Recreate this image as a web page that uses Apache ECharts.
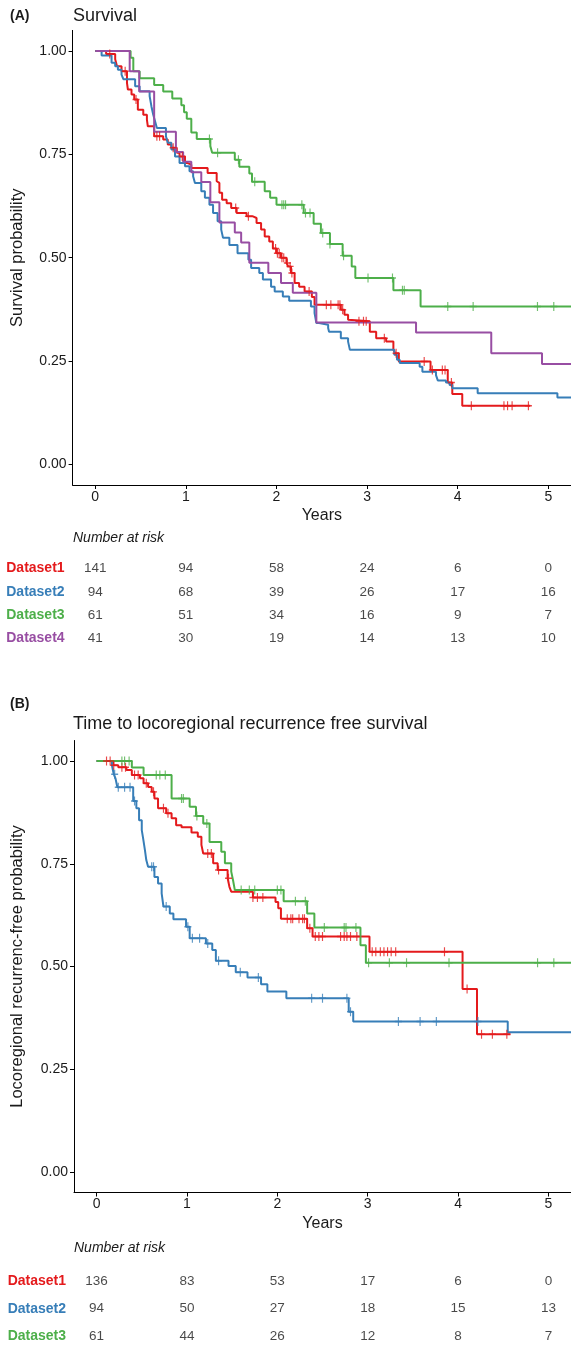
<!DOCTYPE html>
<html>
<head>
<meta charset="utf-8">
<script src="https://cdn.jsdelivr.net/npm/echarts@6/dist/echarts.min.js"></script>
<style>
html,body{margin:0;padding:0;background:#fff;}
#chart{width:571px;height:1350px;}
</style>
</head>
<body>
<div id="chart"></div>
<script>
// ---------- DATA ----------
const datasetNames = ['Dataset1', 'Dataset2', 'Dataset3', 'Dataset4'];
const riskYears = [0, 1, 2, 3, 4, 5];
const yTicks = [0, 0.25, 0.5, 0.75, 1];

// Panel A: Survival — step points [years, survival probability]
const survA_D1 = [[0,1],[0.12,0.993],[0.22,0.980],[0.24,0.963],[0.29,0.951],[0.35,0.923],[0.36,0.907],[0.40,0.895],[0.43,0.883],[0.47,0.858],[0.53,0.846],[0.57,0.834],[0.58,0.818],[0.65,0.794],[0.75,0.786],[0.80,0.774],[0.84,0.766],[0.90,0.754],[0.93,0.745],[0.99,0.729],[1.02,0.725],[1.06,0.717],[1.24,0.705],[1.34,0.685],[1.35,0.681],[1.37,0.657],[1.40,0.640],[1.45,0.632],[1.50,0.620],[1.56,0.608],[1.67,0.600],[1.74,0.596],[1.78,0.584],[1.83,0.568],[1.87,0.551],[1.92,0.539],[1.96,0.522],[2.00,0.511],[2.05,0.500],[2.11,0.487],[2.13,0.479],[2.16,0.463],[2.20,0.439],[2.25,0.430],[2.31,0.418],[2.39,0.405],[2.42,0.386],[2.71,0.374],[2.75,0.362],[2.79,0.350],[2.81,0.346],[3.03,0.321],[3.10,0.305],[3.21,0.297],[3.29,0.277],[3.31,0.269],[3.35,0.249],[3.70,0.228],[3.89,0.198],[3.94,0.170],[4.05,0.142],[4.80,0.142]];
const censA_D1 = [0.16,0.33,0.45,0.68,0.71,0.86,0.96,1.55,1.69,1.99,2.01,2.03,2.06,2.08,2.12,2.15,2.17,2.36,2.55,2.60,2.68,2.70,2.73,2.91,2.96,2.99,3.19,3.32,3.63,3.72,3.83,3.86,3.93,4.15,4.51,4.55,4.60,4.78];

const survA_D2 = [[0,1],[0.07,0.989],[0.18,0.972],[0.22,0.963],[0.25,0.955],[0.29,0.943],[0.31,0.932],[0.44,0.915],[0.49,0.903],[0.60,0.891],[0.62,0.866],[0.64,0.846],[0.66,0.830],[0.68,0.814],[0.78,0.794],[0.80,0.778],[0.84,0.762],[0.88,0.745],[0.93,0.729],[0.99,0.721],[1.04,0.709],[1.08,0.697],[1.10,0.681],[1.17,0.661],[1.21,0.645],[1.26,0.628],[1.30,0.608],[1.35,0.588],[1.39,0.568],[1.41,0.548],[1.48,0.531],[1.57,0.511],[1.69,0.495],[1.72,0.475],[1.81,0.463],[1.85,0.447],[1.94,0.430],[1.98,0.418],[2.07,0.406],[2.14,0.396],[2.38,0.382],[2.42,0.366],[2.44,0.342],[2.47,0.338],[2.57,0.330],[2.58,0.321],[2.71,0.305],[2.79,0.297],[2.81,0.277],[3.30,0.265],[3.33,0.253],[3.36,0.245],[3.58,0.236],[3.61,0.224],[3.76,0.216],[3.78,0.203],[3.87,0.198],[3.91,0.192],[3.94,0.184],[4.22,0.172],[5.10,0.162],[5.30,0.162]];
const censA_D2 = [];

const survA_D3 = [[0,1],[0.39,0.984],[0.42,0.951],[0.49,0.934],[0.65,0.918],[0.75,0.902],[0.85,0.885],[0.95,0.869],[0.98,0.852],[1.01,0.836],[1.06,0.803],[1.12,0.787],[1.27,0.770],[1.29,0.754],[1.54,0.737],[1.59,0.720],[1.70,0.704],[1.73,0.684],[1.87,0.661],[1.93,0.645],[2.00,0.628],[2.30,0.608],[2.41,0.582],[2.49,0.560],[2.59,0.533],[2.73,0.505],[2.83,0.479],[2.87,0.451],[3.29,0.421],[3.59,0.382],[5.30,0.382]];
const censA_D3 = [1.26,1.35,1.58,1.76,2.06,2.08,2.10,2.28,2.32,2.37,2.51,2.59,2.74,3.01,3.28,3.39,3.41,3.89,4.17,4.88,5.06];

const survA_D4 = [[0,1],[0.38,0.951],[0.485,0.902],[0.65,0.805],[0.89,0.756],[0.97,0.732],[1.06,0.707],[1.17,0.683],[1.27,0.634],[1.37,0.585],[1.54,0.561],[1.61,0.537],[1.70,0.488],[1.91,0.463],[2.05,0.439],[2.18,0.415],[2.44,0.343],[3.54,0.319],[4.37,0.269],[4.93,0.243],[5.30,0.243]];
const censA_D4 = [];

// Panel B: Time to locoregional recurrence free survival
const survB_D1 = [[0,1],[0.185,0.990],[0.24,0.985],[0.33,0.978],[0.39,0.966],[0.48,0.958],[0.52,0.946],[0.57,0.937],[0.61,0.925],[0.64,0.909],[0.68,0.885],[0.77,0.873],[0.83,0.861],[0.88,0.844],[0.94,0.839],[1.05,0.826],[1.12,0.816],[1.16,0.796],[1.18,0.775],[1.29,0.751],[1.34,0.735],[1.45,0.715],[1.47,0.694],[1.49,0.682],[1.73,0.668],[1.98,0.657],[2.01,0.642],[2.04,0.616],[2.33,0.593],[2.39,0.573],[3.02,0.536],[4.05,0.445],[4.21,0.335],[4.58,0.335]];
const censB_D1 = [0.11,0.15,0.19,0.28,0.32,0.42,0.46,0.55,0.63,0.74,0.79,1.23,1.27,1.35,1.46,1.73,1.78,1.84,2.11,2.15,2.17,2.24,2.28,2.30,2.36,2.42,2.46,2.50,2.70,2.74,2.77,2.81,2.88,3.05,3.09,3.14,3.18,3.22,3.26,3.31,3.85,4.10,4.26,4.38,4.54];

const survB_D2 = [[0,1],[0.17,0.989],[0.19,0.968],[0.21,0.957],[0.23,0.936],[0.405,0.903],[0.44,0.885],[0.47,0.856],[0.50,0.832],[0.515,0.812],[0.535,0.783],[0.55,0.759],[0.57,0.743],[0.64,0.718],[0.68,0.702],[0.72,0.678],[0.74,0.646],[0.81,0.629],[0.85,0.615],[0.99,0.597],[1.03,0.569],[1.21,0.556],[1.28,0.540],[1.32,0.514],[1.46,0.501],[1.54,0.486],[1.67,0.473],[1.82,0.457],[1.89,0.439],[2.10,0.423],[2.79,0.390],[2.84,0.366],[4.55,0.340],[5.30,0.340]];
const censB_D2 = [0.20,0.24,0.31,0.37,0.42,0.61,0.63,0.77,1.01,1.06,1.14,1.23,1.35,1.59,1.79,2.38,2.50,2.77,2.81,3.34,3.58,3.76,4.22];

const survB_D3 = [[0,1],[0.39,0.984],[0.52,0.966],[0.83,0.909],[1.03,0.889],[1.10,0.866],[1.18,0.848],[1.25,0.803],[1.38,0.779],[1.42,0.751],[1.49,0.731],[1.51,0.710],[1.53,0.686],[2.07,0.659],[2.33,0.629],[2.41,0.595],[2.92,0.552],[2.98,0.509],[5.30,0.509]];
const censB_D3 = [0.28,0.31,0.36,0.66,0.70,0.76,0.94,0.96,1.11,1.22,1.60,1.69,1.75,2.00,2.04,2.20,2.31,2.52,2.74,2.76,2.87,3.01,3.24,3.43,3.90,4.88,5.06];

// Numbers at risk
const riskA_D1 = [141, 94, 58, 24, 6, 0];
const riskA_D2 = [94, 68, 39, 26, 17, 16];
const riskA_D3 = [61, 51, 34, 16, 9, 7];
const riskA_D4 = [41, 30, 19, 14, 13, 10];
const riskB_D1 = [136, 83, 53, 17, 6, 0];
const riskB_D2 = [94, 50, 27, 18, 15, 13];
const riskB_D3 = [61, 44, 26, 12, 8, 7];

// ---------- STYLE / BUILD ----------
const COLORS = {Dataset1:'#E41A1C', Dataset2:'#377EB8', Dataset3:'#4DAF4A', Dataset4:'#984EA3'};
const FONT = "'Liberation Sans', Arial, Helvetica, sans-serif";
const TXT = '#1a1a1a';
const CROSS = 'path://M5,0 L5,10 M0,5 L10,5';

function survAt(curve, t) {
  let s = curve[0][1];
  for (const p of curve) { if (p[0] <= t) s = p[1]; else break; }
  return s;
}

const panels = [
  {grid:0, curves:[['Dataset1',survA_D1,censA_D1],['Dataset2',survA_D2,censA_D2],['Dataset3',survA_D3,censA_D3],['Dataset4',survA_D4,censA_D4]]},
  {grid:1, curves:[['Dataset1',survB_D1,censB_D1],['Dataset2',survB_D2,censB_D2],['Dataset3',survB_D3,censB_D3]]}
];
const tables = [
  {grid:2, rows:[['Dataset1',riskA_D1],['Dataset2',riskA_D2],['Dataset3',riskA_D3],['Dataset4',riskA_D4]]},
  {grid:3, rows:[['Dataset1',riskB_D1],['Dataset2',riskB_D2],['Dataset3',riskB_D3]]}
];

const series = [];
panels.forEach(p => {
  p.curves.forEach(([name, curve, cens]) => {
    series.push({
      type:'line', name, xAxisIndex:p.grid, yAxisIndex:p.grid, data:curve, step:'end',
      showSymbol:false, symbol:'none', clip:true, silent:true,
      lineStyle:{color:COLORS[name], width:2}, z:2
    });
    if (cens.length) series.push({
      type:'scatter', name, xAxisIndex:p.grid, yAxisIndex:p.grid, clip:true, silent:true,
      data: cens.map(t => [t, survAt(curve, t)]),
      symbol:CROSS, symbolSize:[7,9],
      itemStyle:{color:'none', borderColor:COLORS[name], borderWidth:1.3}, z:3
    });
  });
});
tables.forEach(tb => {
  const data = [];
  tb.rows.forEach(([name, vals]) => vals.forEach((v, i) => data.push([riskYears[i], name, v])));
  series.push({
    type:'scatter', xAxisIndex:tb.grid, yAxisIndex:tb.grid, silent:true,
    data, symbolSize:1, itemStyle:{color:'rgba(0,0,0,0)'},
    label:{show:true, position:'inside', formatter:p => String(p.value[2]), fontFamily:FONT, fontSize:13.5, color:TXT}
  });
});

function plotX(g) {
  return {
    type:'value', gridIndex:g, min:-0.25, max:5.25,
    name:'Years', nameLocation:'middle', nameGap:23,
    nameTextStyle:{fontFamily:FONT, fontSize:16, color:TXT},
    axisLine:{show:true, onZero:false, lineStyle:{color:'#000', width:1}},
    axisTick:{show:true, length:4, customValues:riskYears, lineStyle:{color:'#000'}},
    axisLabel:{customValues:riskYears, margin:5, fontFamily:FONT, fontSize:14, color:TXT},
    splitLine:{show:false}
  };
}
function plotY(g, name, gap) {
  return {
    type:'value', gridIndex:g, min:-0.05, max:1.05,
    name, nameLocation:'middle', nameGap:gap, nameRotate:90,
    nameTextStyle:{fontFamily:FONT, fontSize:16.5, color:TXT},
    axisLine:{show:true, onZero:false, lineStyle:{color:'#000', width:1}},
    axisTick:{show:true, length:4, customValues:yTicks, lineStyle:{color:'#000'}},
    axisLabel:{customValues:yTicks, margin:6, fontFamily:FONT, fontSize:14, color:TXT, formatter:v => v.toFixed(2)},
    splitLine:{show:false}
  };
}
function tableX(g) {
  return {type:'value', gridIndex:g, min:-0.25, max:5.25, show:false};
}
const rich = {};
datasetNames.forEach(n => rich[n] = {color:COLORS[n], fontWeight:'bold', fontSize:14, fontFamily:FONT});
function tableY(g, names) {
  return {
    type:'category', gridIndex:g, data:names, inverse:true,
    axisLine:{show:false}, axisTick:{show:false}, splitLine:{show:false},
    axisLabel:{margin:8, formatter:v => '{' + v + '|' + v + '}', rich}
  };
}

const option = {
  backgroundColor:'#fff',
  animation:false,
  title:[
    {text:'(A)', left:10, top:9, padding:0, textStyle:{fontFamily:FONT, fontSize:14, fontWeight:'bold', color:TXT}},
    {text:'Survival', left:73, top:7, padding:0, textStyle:{fontFamily:FONT, fontSize:18, fontWeight:'normal', color:TXT}},
    {text:'Number at risk', left:73, top:531, padding:0, textStyle:{fontFamily:FONT, fontSize:14, fontStyle:'italic', fontWeight:'normal', color:TXT}},
    {text:'(B)', left:10, top:697, padding:0, textStyle:{fontFamily:FONT, fontSize:14, fontWeight:'bold', color:TXT}},
    {text:'Time to locoregional recurrence free survival', left:73, top:715, padding:0, textStyle:{fontFamily:FONT, fontSize:18, fontWeight:'normal', color:TXT}},
    {text:'Number at risk', left:74, top:1241, padding:0, textStyle:{fontFamily:FONT, fontSize:14, fontStyle:'italic', fontWeight:'normal', color:TXT}}
  ],
  grid:[
    {left:72.6, top:30.4, width:499.4, height:454.6},
    {left:74, top:740.5, width:499.4, height:452},
    {left:72.6, top:557, width:499.4, height:93},
    {left:74, top:1267.5, width:499.4, height:84}
  ],
  xAxis:[plotX(0), plotX(1), tableX(2), tableX(3)],
  yAxis:[
    plotY(0, 'Survival probability', 47),
    plotY(1, 'Locoregional recurrenc-free probability', 48.5),
    tableY(2, ['Dataset1','Dataset2','Dataset3','Dataset4']),
    tableY(3, ['Dataset1','Dataset2','Dataset3'])
  ],
  series
};

const chart = echarts.init(document.getElementById('chart'), null, {renderer:'canvas'});
chart.setOption(option);
</script>
</body>
</html>
